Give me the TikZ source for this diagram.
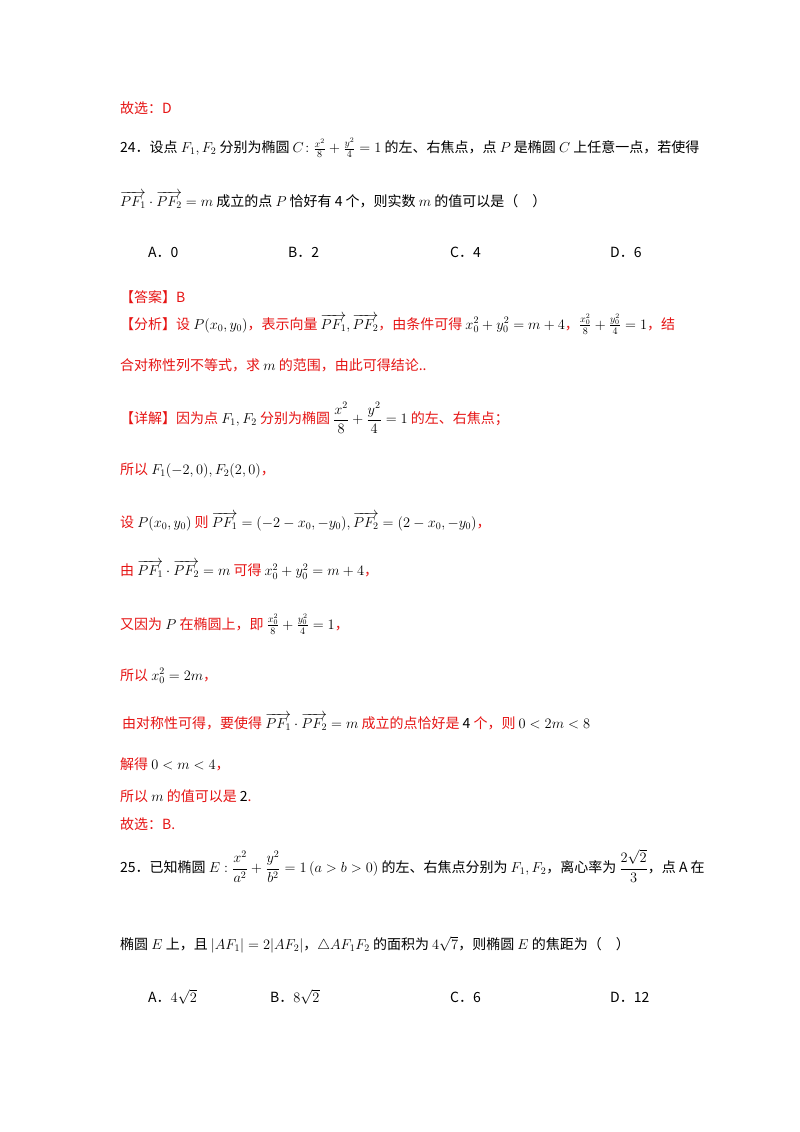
\documentclass[tikz,border=0pt]{standalone}
\usepackage{amsmath}
\usepackage{fontspec}
\setmainfont{Noto Sans CJK SC}
\definecolor{ans}{RGB}{230,20,20}
\newcommand{\vv}[1]{\overrightarrow{#1}}
\begin{document}
\begin{tikzpicture}[x=1pt,y=1pt,t/.style={anchor=west,inner sep=0pt,font=\fontsize{14}{16}\selectfont},r/.style={t,text=ans}]
\useasboundingbox[fill=white] (0,0) rectangle (800,-1132);
\node[r] (l1) at (120,-108) {故选：D};
\node[t] (l2) at (120,-148) {24．设点 $F_1,F_2$ 分别为椭圆 $C\!:\frac{x^2}{8}+\frac{y^2}{4}=1$ 的左、右焦点，点 $P$ 是椭圆 $C$ 上任意一点，若使得};
\node[t] (l3) at (120,-200) {$\vv{PF_1}\cdot\vv{PF_2}=m$ 成立的点 $P$ 恰好有 4 个，则实数 $m$ 的值可以是（\quad）};
\node[t] (a1) at (148,-252) {A．0};
\node[t] (b1) at (288,-252) {B．2};
\node[t] (c1) at (450,-252) {C．4};
\node[t] (d1) at (610,-252) {D．6};
\node[r] (l4) at (120,-297) {【答案】B};
\node[r] (l5) at (120,-324) {【分析】设 {\color{black}$P(x_0,y_0)$}，表示向量 {\color{black}$\vv{PF_1},\vv{PF_2}$}，由条件可得 {\color{black}$x_0^2+y_0^2=m+4$}，{\color{black}$\frac{x_0^2}{8}+\frac{y_0^2}{4}=1$}，结};
\node[r] (l6) at (120,-365) {合对称性列不等式，求 {\color{black}$m$} 的范围，由此可得结论..};
\node[r] (l7) at (120,-418) {【详解】因为点 {\color{black}$F_1,F_2$} 分别为椭圆 {\color{black}$\dfrac{x^2}{8}+\dfrac{y^2}{4}=1$} 的左、右焦点；};
\node[r] (l8) at (120,-470) {所以 {\color{black}$F_1(-2,0),F_2(2,0)$}，};
\node[r] (l9) at (120,-522) {设 {\color{black}$P(x_0,y_0)$} 则 {\color{black}$\vv{PF_1}=(-2-x_0,-y_0),\vv{PF_2}=(2-x_0,-y_0)$}，};
\node[r] (l10) at (120,-570) {由 {\color{black}$\vv{PF_1}\cdot\vv{PF_2}=m$} 可得 {\color{black}$x_0^2+y_0^2=m+4$}，};
\node[r] (l11) at (120,-624) {又因为 {\color{black}$P$} 在椭圆上，即 {\color{black}$\frac{x_0^2}{8}+\frac{y_0^2}{4}=1$}，};
\node[r] (l12) at (120,-676) {所以 {\color{black}$x_0^2=2m$}，};
\node[r] (l13) at (122,-722) {由对称性可得，要使得 {\color{black}$\vv{PF_1}\cdot\vv{PF_2}=m$} 成立的点恰好是 {\color{black}4} 个，则 {\color{black}$0<2m<8$}};
\node[r] (l14) at (120,-764) {解得 {\color{black}$0<m<4$}，};
\node[r] (l15) at (120,-796) {所以 {\color{black}$m$} 的值可以是 {\color{black}2}.};
\node[r] (l16) at (120,-824) {故选：B.};
\node[t] (l17) at (120,-866) {25．已知椭圆 $E:\dfrac{x^2}{a^2}+\dfrac{y^2}{b^2}=1\,(a>b>0)$ 的左、右焦点分别为 $F_1,F_2$，离心率为 $\dfrac{2\sqrt2}{3}$，点 A 在};
\node[t] (l18) at (120,-945) {椭圆 $E$ 上，且 $|AF_1|=2|AF_2|$，$\triangle AF_1F_2$ 的面积为 $4\sqrt7$，则椭圆 $E$ 的焦距为（\quad）};
\node[t] (a2) at (148,-997) {A．$4\sqrt2$};
\node[t] (b2) at (270,-997) {B．$8\sqrt2$};
\node[t] (c2) at (450,-997) {C．6};
\node[t] (d2) at (610,-997) {D．12};
\end{tikzpicture}
\end{document}
